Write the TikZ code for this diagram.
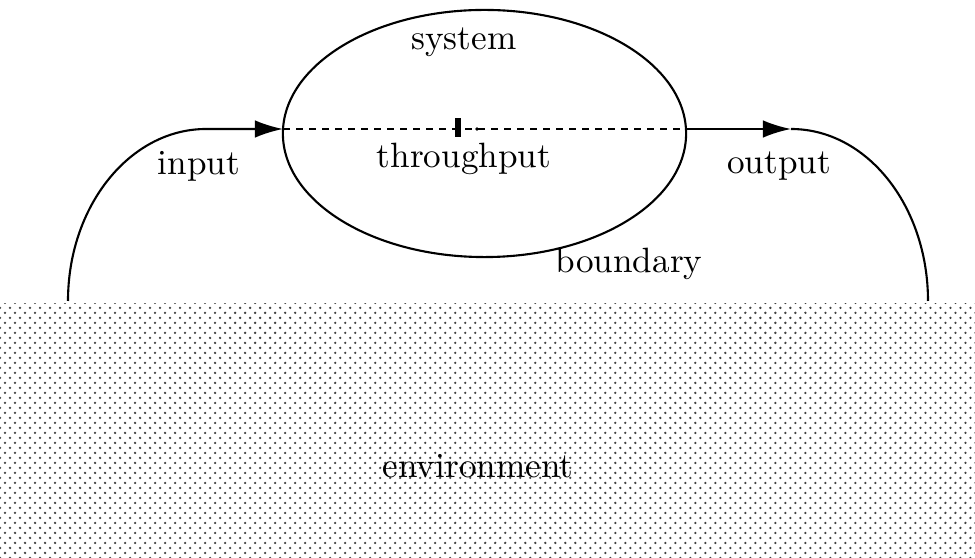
\documentclass[tikz,border=0pt]{standalone}
\usepackage{tikz}
\usetikzlibrary{arrows.meta}
\usetikzlibrary{shapes.geometric}
\usetikzlibrary{patterns}
\pgfdeclarepatternformonly{envdots}{\pgfqpoint{-1pt}{-1pt}}{\pgfqpoint{2.5pt}{2.5pt}}{\pgfqpoint{2.845pt}{2.845pt}}{
  \pgfpathcircle{\pgfqpoint{0pt}{0pt}}{0.36pt}
  \pgfpathcircle{\pgfqpoint{1.4225pt}{1.4225pt}}{0.36pt}
  \pgfusepath{fill}}
\tikzset{
  flow/.style={line width=0.6pt,-{Latex[length=8pt,width=5pt]}},
  lbl/.style={inner sep=0pt,font=\normalsize}
}

\begin{document}
\begin{tikzpicture}[x=0.01cm,y=-0.01cm,line width=0.6pt]
      \useasboundingbox (0,0) rectangle (975,558);
      \fill[pattern=envdots,pattern color=black!75] (0,304) rectangle (975,558);
      \node[ellipse,draw,line width=0.6pt,minimum width=4.03cm,minimum height=2.47cm,inner sep=0pt] (sys) at (484.5,133.5) {};
      \coordinate (inbase) at (68,301);
      \coordinate (inbend) at (206,129);
      \coordinate (outtip) at (791,129);
      \coordinate (outbase) at (928,301);
      \coordinate (sysin) at (283,129);
      \coordinate (sysout) at (686,129);
      \draw[dash pattern=on 2pt off 1.7pt] (sysin) -- (sysout);
      \node[fill=black,minimum width=0.06cm,minimum height=0.19cm,inner sep=0pt] (tp) at (458,128) {};
      \fill (477,129) circle (1.8);
      \draw[flow] (inbase) .. controls (68,206) and (130,129) .. (inbend) -- (sysin);
      \draw[flow] (sysout) -- (outtip);
      \draw (outtip) .. controls (867,129) and (928,206) .. (outbase);
      \node[lbl] (system) at (464,42) {system};
      \node[lbl] (input) at (199,166) {input};
      \node[lbl] (throughput) at (464,159) {throughput};
      \node[lbl] (output) at (779,166) {output};
      \node[lbl] (boundary) at (629,264) {boundary};
      \node[lbl] (environment) at (478,466) {environment};
\end{tikzpicture}
\end{document}
